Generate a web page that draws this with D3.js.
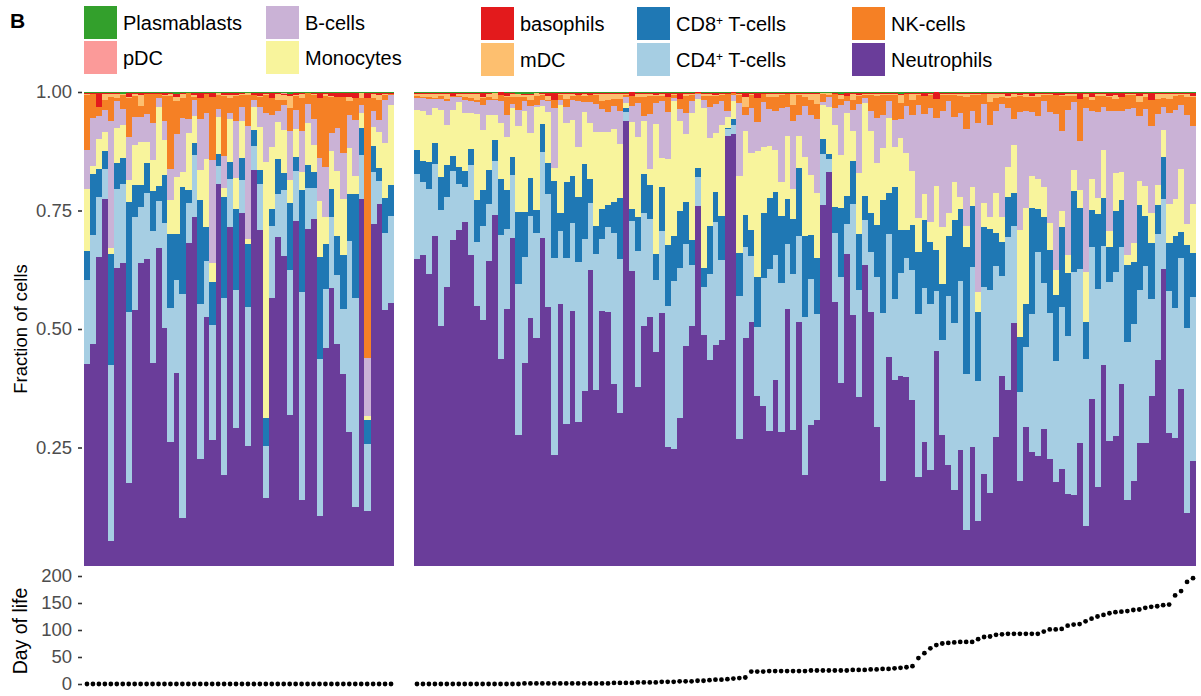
<!DOCTYPE html>
<html>
<head>
<meta charset="utf-8">
<script src="https://cdn.jsdelivr.net/npm/d3@7"></script>
<style>
  body { margin: 0; background: #fff; }
  svg { display: block; font-family: "Liberation Sans", Arial, Helvetica, sans-serif; }
</style>
</head>
<body>
<svg id="chart" width="1201" height="696"></svg>
<script>
// ---- Cell-type composition per sample (percent of cells, each sample sums to ~100) ----
// Samples 0-51 form the first group, 52-182 the second group (ordered by day of life).
const panelSizes = [52, 131];

const neutrophils = [
  42.6, 46.9, 65.2, 77.4, 5.3, 62.9, 63.9, 17.6, 54.0, 63.9,
  64.8, 42.8, 67.1, 50.2, 26.2, 40.7, 10.1, 68.1, 73.6, 22.6,
  52.5, 26.6, 80.6, 19.2, 71.5, 29.1, 74.5, 25.3, 83.8, 70.9,
  14.3, 56.7, 69.4, 65.4, 31.9, 72.8, 13.9, 71.1, 73.2, 10.5,
  46.0, 58.6, 46.8, 40.5, 28.3, 12.4, 77.4, 11.6, 72.1, 76.4,
  54.0, 55.5,
  64.6, 65.6, 61.6, 69.6, 50.6, 58.9, 68.8, 70.9, 72.6, 65.6,
  54.8, 51.9, 64.3, 74.0, 43.7, 54.2, 69.2, 27.6, 42.8, 52.3,
  48.1, 69.2, 54.6, 23.4, 55.3, 30.0, 53.8, 30.4, 36.9, 62.4,
  37.1, 53.8, 53.6, 38.4, 32.3, 93.9, 62.2, 37.8, 50.6, 52.5,
  45.1, 53.4, 25.1, 24.7, 31.2, 46.4, 50.6, 75.9, 48.7, 43.5,
  46.6, 47.7, 90.7, 91.1, 26.8, 48.1, 51.5, 35.9, 33.8, 28.5,
  39.2, 28.3, 54.2, 28.7, 51.5, 19.2, 29.7, 30.8, 76.2, 83.1,
  55.7, 38.6, 65.8, 53.0, 35.7, 63.5, 53.6, 29.3, 17.9, 44.1,
  39.2, 40.1, 39.9, 35.0, 18.8, 26.2, 20.3, 45.4, 27.6, 21.3,
  16.0, 24.5, 7.6, 25.1, 9.5, 19.4, 15.4, 27.2, 40.1, 37.1,
  51.3, 17.9, 29.3, 24.0, 23.2, 28.9, 22.6, 17.7, 20.5, 15.2,
  15.0, 25.9, 8.4, 35.2, 16.7, 42.4, 26.4, 27.4, 38.4, 13.9,
  17.9, 25.9, 25.9, 35.9, 43.5, 62.7, 28.1, 27.0, 37.3, 11.2,
  22.2
];

const cd4TCells = [
  17.7, 22.9, 12.7, 6.3, 37.1, 16.7, 16.7, 36.0, 19.6, 11.8,
  13.9, 27.8, 9.9, 22.2, 28.3, 19.6, 47.3, 8.4, 13.1, 32.7,
  11.8, 24.3, 3.8, 37.3, 10.1, 29.1, 7.0, 29.3, 4.9, 9.7,
  11.0, 15.0, 9.1, 14.1, 30.6, 10.5, 43.9, 8.6, 6.5, 33.1,
  12.4, 15.0, 14.6, 13.7, 40.3, 44.1, 9.3, 14.1, 11.0, 4.9,
  16.2, 18.4,
  18.1, 15.4, 17.9, 15.2, 24.5, 19.0, 14.6, 9.7, 7.4, 19.0,
  13.5, 20.0, 12.0, 11.4, 26.2, 16.9, 13.3, 31.9, 22.4, 21.5,
  22.2, 18.1, 23.8, 41.6, 15.4, 35.0, 18.4, 33.8, 32.1, 14.1,
  28.7, 15.2, 17.9, 31.9, 32.5, 1.9, 10.5, 28.7, 23.8, 20.7,
  15.2, 17.3, 29.7, 35.4, 31.6, 21.5, 12.9, 6.1, 10.1, 18.1,
  25.9, 16.9, 1.5, 1.9, 30.2, 19.2, 13.9, 14.6, 27.0, 34.2,
  26.4, 31.4, 13.7, 32.9, 18.1, 33.3, 31.0, 22.4, 10.8, 2.7,
  14.6, 22.4, 6.3, 23.4, 22.6, 9.5, 12.7, 31.6, 35.4, 25.9,
  17.1, 21.7, 25.1, 27.4, 34.4, 32.5, 35.0, 12.7, 20.0, 35.7,
  35.2, 35.7, 32.9, 38.0, 29.5, 39.5, 42.8, 36.1, 21.1, 32.3,
  20.5, 18.8, 17.1, 29.3, 43.0, 30.8, 30.8, 25.5, 34.2, 33.3,
  47.0, 36.7, 35.2, 32.1, 41.8, 25.1, 33.5, 34.6, 28.9, 33.3,
  33.1, 32.3, 37.3, 20.5, 26.6, 14.8, 30.0, 27.4, 27.6, 39.0,
  34.6
];

const cd8TCells = [
  6.1, 12.9, 5.9, 3.8, 23.4, 5.5, 5.5, 23.2, 6.8, 4.6,
  6.3, 8.4, 3.2, 10.1, 15.6, 9.7, 22.6, 2.7, 2.5, 21.9,
  7.2, 9.1, 2.5, 21.3, 3.6, 17.1, 4.6, 13.3, 3.4, 3.0,
  5.9, 3.6, 7.4, 3.4, 14.1, 3.0, 21.5, 4.9, 3.4, 21.5,
  9.5, 5.9, 8.2, 11.4, 9.9, 21.9, 5.7, 5.1, 5.5, 2.7,
  7.4, 6.5,
  4.9, 4.4, 5.7, 4.4, 6.8, 6.8, 3.0, 3.6, 3.4, 3.4,
  8.9, 7.4, 7.2, 4.4, 11.8, 8.2, 3.8, 15.2, 9.5, 8.0,
  4.9, 5.9, 6.5, 16.2, 3.8, 16.0, 10.1, 13.7, 15.8, 5.1,
  5.9, 6.3, 4.6, 6.5, 12.9, 0.8, 2.5, 7.2, 8.2, 7.2,
  5.5, 9.3, 12.9, 9.5, 12.0, 8.9, 5.3, 1.9, 4.0, 10.1,
  6.3, 9.3, 0.2, 1.3, 9.1, 6.8, 5.5, 10.5, 13.7, 15.0,
  13.3, 14.1, 9.5, 11.6, 14.3, 17.1, 9.1, 11.8, 3.2, 1.1,
  5.5, 14.6, 5.9, 9.1, 11.8, 5.1, 8.2, 11.0, 23.8, 8.6,
  23.6, 9.1, 5.9, 9.5, 13.1, 14.3, 13.1, 8.6, 11.8, 12.7,
  21.7, 15.2, 26.8, 12.9, 14.6, 12.7, 12.9, 7.0, 7.2, 8.4,
  7.0, 11.6, 8.9, 22.2, 9.1, 13.9, 13.3, 13.9, 16.9, 13.3,
  17.1, 12.9, 7.8, 7.8, 15.8, 10.1, 7.4, 12.9, 9.9, 16.2,
  13.1, 17.9, 10.5, 11.8, 6.1, 8.9, 10.1, 15.2, 5.5, 17.5,
  9.3
];

const monocytes = [
  13.1, 1.7, 6.3, 4.1, 1.3, 7.3, 7.0, 4.6, 8.4, 9.1,
  4.4, 6.5, 16.7, 7.4, 7.2, 12.0, 3.2, 12.0, 5.7, 6.3,
  14.3, 4.0, 7.8, 1.9, 9.1, 6.5, 7.8, 1.1, 4.9, 9.1,
  54.0, 13.1, 7.8, 9.1, 4.9, 5.9, 3.8, 8.9, 5.7, 12.0,
  5.7, 8.0, 13.7, 11.8, 9.7, 3.8, 3.2, 0.8, 4.0, 7.6,
  11.6, 16.9,
  8.6, 10.5, 9.9, 7.4, 14.3, 8.4, 9.9, 13.7, 12.2, 7.6,
  18.1, 12.7, 11.6, 5.3, 11.8, 11.2, 10.3, 18.1, 21.3, 9.5,
  21.7, 3.8, 10.8, 2.7, 22.8, 12.4, 11.8, 10.5, 11.0, 11.8,
  19.8, 16.2, 15.4, 15.4, 11.4, 1.1, 18.4, 16.9, 11.2, 3.4,
  27.4, 6.1, 18.1, 28.3, 19.0, 14.3, 26.8, 14.6, 33.8, 18.6,
  12.4, 19.2, 2.3, 3.8, 16.2, 17.7, 16.2, 26.6, 13.9, 11.0,
  8.9, 7.2, 13.3, 6.3, 6.8, 16.7, 12.7, 13.7, 7.2, 9.9,
  17.3, 11.2, 17.5, 6.3, 12.9, 19.6, 17.3, 13.1, 11.0, 15.8,
  8.4, 19.4, 16.2, 11.4, 7.2, 5.5, 4.2, 13.5, 12.0, 4.9,
  8.0, 2.5, 4.4, 4.0, 4.2, 5.1, 2.5, 8.4, 5.3, 6.3,
  10.1, 22.6, 20.3, 6.8, 6.3, 6.3, 5.7, 5.3, 3.4, 3.8,
  4.4, 3.8, 10.5, 6.5, 3.4, 10.1, 3.4, 8.0, 6.1, 2.1,
  4.0, 5.1, 6.3, 6.3, 4.2, 5.7, 8.2, 7.8, 13.3, 4.4,
  10.3
];

const bCells = [
  8.2, 10.2, 4.9, 4.6, 26.9, 5.8, 3.4, 9.1, 5.9, 5.3,
  5.9, 7.8, 1.9, 4.0, 6.5, 9.1, 11.4, 3.0, 3.4, 10.8,
  9.7, 21.7, 1.7, 6.8, 1.3, 12.0, 3.0, 23.8, 1.5, 4.2,
  10.3, 6.8, 2.3, 5.3, 10.3, 4.0, 8.6, 4.0, 5.5, 8.9,
  10.5, 3.8, 9.1, 9.7, 7.0, 11.8, 1.7, 12.2, 3.4, 2.5,
  9.1, 2.1,
  2.5, 2.7, 3.4, 1.9, 2.3, 5.1, 2.7, 1.1, 2.7, 2.5,
  2.5, 5.3, 3.2, 3.2, 4.6, 4.6, 0.8, 3.4, 2.1, 5.7,
  0.4, 1.3, 2.3, 12.7, 1.1, 3.4, 4.2, 9.7, 2.1, 4.4,
  5.9, 4.9, 4.2, 4.9, 7.0, 1.3, 3.4, 7.2, 1.1, 11.6,
  4.4, 12.0, 9.9, 0.8, 2.5, 4.4, 2.5, 1.1, 1.7, 6.5,
  6.1, 5.1, 1.3, 1.3, 15.4, 3.4, 9.5, 6.1, 9.5, 7.8,
  8.2, 15.6, 6.1, 14.3, 4.4, 10.8, 12.7, 15.6, 0.6, 2.1,
  3.6, 10.5, 2.5, 4.4, 14.6, 1.1, 4.2, 9.5, 7.0, 3.6,
  5.7, 4.0, 9.9, 11.8, 23.8, 16.9, 24.1, 14.3, 24.5, 23.6,
  13.7, 17.7, 20.5, 16.0, 35.7, 20.9, 19.4, 17.3, 23.8, 12.4,
  5.5, 24.9, 20.5, 13.5, 13.3, 18.1, 23.4, 32.9, 16.9, 30.6,
  14.3, 10.3, 34.6, 14.3, 18.1, 9.1, 25.3, 13.1, 12.7, 30.8,
  28.5, 13.7, 16.2, 18.4, 15.0, 4.9, 19.2, 18.8, 13.5, 23.0,
  16.5
];

const nkCells = [
  11.6, 4.9, 2.0, 2.1, 5.1, 0.5, 3.0, 8.3, 4.4, 2.3,
  4.1, 6.1, 0.8, 5.3, 15.4, 7.0, 4.3, 5.5, 0.6, 4.5,
  3.9, 13.3, 3.0, 12.7, 3.2, 5.3, 2.5, 6.5, 1.1, 2.1,
  3.8, 3.6, 2.3, 1.1, 4.9, 3.0, 7.0, 2.3, 5.1, 12.7,
  15.0, 7.6, 6.5, 11.8, 3.0, 4.6, 1.5, 54.9, 2.7, 4.2,
  1.1, 0.2,
  0.4, 0.2, 0.4, 0.2, 0.6, 0.4, 0.2, 0.2, 0.6, 0.6,
  0.4, 1.5, 0.6, 0.2, 1.3, 3.8, 1.5, 2.7, 0.8, 1.3,
  1.9, 1.1, 0.3, 1.7, 1.1, 1.7, 0.8, 1.3, 1.3, 1.5,
  1.9, 1.7, 2.5, 1.5, 2.5, 0.4, 2.1, 1.3, 4.0, 3.8,
  1.5, 1.1, 3.2, 0.6, 2.1, 3.6, 1.3, 0.2, 0.8, 2.3,
  1.7, 1.3, 3.6, 0.4, 1.7, 1.7, 2.7, 5.1, 1.7, 2.5,
  3.0, 2.7, 2.7, 3.4, 4.2, 1.9, 3.2, 3.2, 1.7, 0.4,
  3.0, 1.3, 1.1, 2.1, 1.7, 0.6, 3.4, 4.6, 4.2, 1.3,
  5.3, 3.4, 2.5, 3.2, 2.1, 3.8, 2.7, 4.0, 3.4, 1.3,
  4.6, 3.6, 6.8, 3.4, 5.9, 2.1, 4.9, 2.7, 1.5, 2.1,
  4.6, 3.4, 3.0, 3.2, 4.0, 1.3, 3.6, 4.0, 7.4, 3.0,
  1.3, 8.9, 2.3, 2.3, 3.4, 2.3, 3.0, 2.5, 3.0, 3.0,
  2.7, 3.0, 2.5, 5.5, 3.2, 1.9, 3.0, 3.0, 2.1, 3.8,
  6.1
];

const mDC = [
  0.1, 0.0, 0.0, 1.2, 0.6, 0.9, 0.1, 0.1, 0.3, 2.3,
  0.0, 0.0, 0.0, 0.2, 0.3, 0.8, 0.8, 0.0, 0.5, 0.0,
  0.0, 0.1, 0.4, 0.2, 0.6, 0.2, 0.2, 0.3, 0.0, 0.3,
  0.2, 0.1, 1.2, 1.1, 2.6, 0.2, 0.8, 0.0, 0.2, 0.1,
  0.3, 0.3, 0.1, 0.1, 0.8, 0.0, 1.0, 0.0, 0.8, 1.1,
  0.2, 0.0,
  0.3, 0.6, 0.6, 0.8, 0.3, 1.0, 0.0, 0.3, 0.6, 0.8,
  1.2, 0.2, 0.6, 1.2, 0.0, 0.2, 0.6, 0.6, 0.5, 1.1,
  0.5, 0.2, 0.8, 0.0, 0.2, 1.0, 0.3, 0.0, 0.3, 0.0,
  0.2, 1.4, 1.2, 1.0, 1.0, 0.2, 0.0, 0.6, 0.6, 0.3,
  0.1, 0.3, 0.1, 0.2, 0.0, 0.3, 0.2, 0.0, 0.3, 0.3,
  0.1, 0.2, 0.0, 0.0, 0.2, 2.1, 0.2, 0.1, 0.0, 0.6,
  0.6, 0.2, 0.0, 2.3, 0.2, 0.6, 1.2, 2.0, 0.1, 0.4,
  0.0, 0.9, 0.0, 1.2, 0.1, 0.2, 0.2, 0.3, 0.2, 0.2,
  0.2, 1.7, 0.0, 1.2, 0.1, 0.0, 0.2, 0.0, 0.2, 0.2,
  0.2, 0.3, 0.6, 0.2, 0.2, 0.0, 1.6, 0.8, 0.6, 0.4,
  0.6, 0.1, 0.6, 0.3, 0.6, 0.2, 0.2, 0.0, 0.1, 0.3,
  0.3, 0.1, 0.6, 0.6, 0.3, 0.3, 0.3, 0.8, 0.1, 0.2,
  0.2, 1.3, 0.6, 0.1, 1.0, 0.8, 1.0, 0.3, 0.2, 0.6,
  0.2
];

const basophils = [
  0.3, 0.3, 2.9, 0.3, 0.2, 0.2, 0.1, 0.9, 0.2, 0.4,
  0.2, 0.2, 0.2, 0.4, 0.3, 0.7, 0.1, 0.0, 0.3, 1.0,
  0.3, 0.8, 0.0, 0.4, 0.3, 0.3, 0.2, 0.1, 0.4, 0.5,
  0.2, 1.0, 0.2, 0.2, 0.3, 0.3, 0.2, 0.0, 0.2, 0.9,
  0.3, 0.5, 0.7, 0.7, 0.8, 1.0, 0.0, 1.0, 0.2, 0.3,
  0.2, 0.2,
  0.2, 0.2, 0.2, 0.2, 0.2, 0.2, 0.6, 0.2, 0.2, 0.2,
  0.2, 0.8, 0.2, 0.0, 0.5, 0.6, 0.2, 0.1, 0.2, 0.2,
  0.1, 0.2, 0.6, 1.5, 0.2, 0.2, 0.2, 0.4, 0.2, 0.4,
  0.2, 0.2, 0.2, 0.2, 0.2, 0.2, 0.7, 0.2, 0.2, 0.2,
  0.5, 0.2, 0.8, 0.2, 1.3, 0.2, 0.2, 0.1, 0.2, 0.2,
  0.4, 0.2, 0.2, 0.1, 0.2, 0.8, 0.2, 1.0, 0.2, 0.2,
  0.2, 0.2, 0.2, 0.1, 0.2, 0.2, 0.2, 0.2, 0.1, 0.0,
  0.1, 0.2, 0.6, 0.2, 0.4, 0.2, 0.2, 0.2, 0.2, 0.2,
  0.2, 0.2, 0.2, 0.2, 0.3, 0.6, 0.2, 1.4, 0.2, 0.2,
  0.2, 0.2, 0.2, 0.2, 0.2, 0.2, 0.2, 0.2, 0.2, 0.6,
  0.2, 0.4, 0.2, 0.5, 0.2, 0.2, 0.2, 0.4, 0.4, 0.2,
  0.2, 1.1, 0.2, 0.8, 0.2, 0.2, 0.5, 0.4, 0.8, 0.2,
  0.2, 0.5, 0.2, 1.3, 0.2, 0.2, 0.2, 0.2, 0.2, 0.2,
  0.6
];

const pDC = [
  0.0, 0.0, 0.0, 0.0, 0.0, 0.0, 0.0, 0.0, 0.1, 0.0,
  0.1, 0.0, 0.0, 0.0, 0.0, 0.0, 0.0, 0.0, 0.0, 0.0,
  0.0, 0.0, 0.0, 0.0, 0.0, 0.0, 0.0, 0.0, 0.0, 0.0,
  0.0, 0.0, 0.0, 0.1, 0.1, 0.0, 0.0, 0.0, 0.0, 0.0,
  0.0, 0.0, 0.0, 0.0, 0.0, 0.0, 0.0, 0.0, 0.0, 0.0,
  0.0, 0.0,
  0.0, 0.1, 0.0, 0.0, 0.0, 0.0, 0.0, 0.0, 0.0, 0.0,
  0.0, 0.0, 0.0, 0.0, 0.0, 0.0, 0.0, 0.0, 0.0, 0.0,
  0.0, 0.0, 0.0, 0.0, 0.0, 0.0, 0.0, 0.0, 0.0, 0.0,
  0.0, 0.0, 0.0, 0.0, 0.0, 0.0, 0.0, 0.0, 0.0, 0.0,
  0.0, 0.0, 0.0, 0.0, 0.0, 0.0, 0.0, 0.0, 0.0, 0.0,
  0.0, 0.0, 0.0, 0.0, 0.0, 0.0, 0.0, 0.0, 0.0, 0.0,
  0.0, 0.0, 0.0, 0.0, 0.0, 0.0, 0.0, 0.0, 0.0, 0.0,
  0.0, 0.0, 0.0, 0.0, 0.0, 0.0, 0.0, 0.0, 0.0, 0.0,
  0.0, 0.0, 0.0, 0.0, 0.0, 0.0, 0.0, 0.0, 0.0, 0.0,
  0.0, 0.0, 0.0, 0.0, 0.0, 0.0, 0.0, 0.0, 0.0, 0.0,
  0.0, 0.0, 0.0, 0.0, 0.0, 0.0, 0.0, 0.0, 0.0, 0.0,
  0.0, 0.0, 0.0, 0.0, 0.0, 0.0, 0.0, 0.0, 0.0, 0.0,
  0.0, 0.0, 0.0, 0.0, 0.0, 0.0, 0.0, 0.0, 0.0, 0.0,
  0.0
];

const plasmablasts = [
  0.2, 0.2, 0.2, 0.2, 0.2, 0.2, 0.4, 0.2, 0.2, 0.3,
  0.2, 0.2, 0.2, 0.2, 0.2, 0.4, 0.3, 0.2, 0.3, 0.2,
  0.2, 0.2, 0.2, 0.2, 0.3, 0.3, 0.2, 0.2, 0.2, 0.3,
  0.2, 0.2, 0.3, 0.3, 0.4, 0.3, 0.3, 0.2, 0.2, 0.3,
  0.2, 0.3, 0.3, 0.3, 0.3, 0.3, 0.3, 0.3, 0.3, 0.3,
  0.2, 0.2,
  0.3, 0.2, 0.3, 0.3, 0.3, 0.3, 0.2, 0.3, 0.3, 0.3,
  0.3, 0.3, 0.3, 0.3, 0.1, 0.3, 0.3, 0.4, 0.4, 0.4,
  0.2, 0.2, 0.2, 0.2, 0.2, 0.3, 0.3, 0.2, 0.3, 0.2,
  0.2, 0.3, 0.3, 0.3, 0.3, 0.2, 0.1, 0.3, 0.3, 0.3,
  0.2, 0.3, 0.2, 0.2, 0.2, 0.3, 0.2, 0.1, 0.3, 0.3,
  0.3, 0.2, 0.2, 0.1, 0.2, 0.3, 0.2, 0.2, 0.2, 0.3,
  0.3, 0.2, 0.2, 0.3, 0.2, 0.3, 0.3, 0.3, 0.2, 0.2,
  0.3, 0.4, 0.2, 0.3, 0.3, 0.2, 0.2, 0.3, 0.2, 0.2,
  0.2, 0.4, 0.2, 0.3, 0.2, 0.2, 0.2, 0.1, 0.2, 0.2,
  0.2, 0.3, 0.3, 0.2, 0.2, 0.2, 0.3, 0.3, 0.3, 0.3,
  0.3, 0.3, 0.3, 0.3, 0.3, 0.2, 0.2, 0.2, 0.3, 0.3,
  0.3, 0.3, 0.3, 0.3, 0.3, 0.3, 0.3, 0.3, 0.2, 0.2,
  0.2, 0.3, 0.3, 0.3, 0.3, 0.3, 0.3, 0.3, 0.2, 0.3,
  0.3
];

// Day of life at sampling
const dayOfLife = [
  0, 0, 0, 0, 0, 0, 0, 0, 0, 0,
  0, 0, 0, 0, 0, 0, 0, 0, 0, 0,
  0, 0, 0, 0, 0, 0, 0, 0, 0, 0,
  0, 0, 0, 0, 0, 0, 0, 0, 0, 0,
  0, 0, 0, 0, 0, 0, 0, 0, 0, 0,
  0, 0,
  0, 0, 0, 0, 0, 0, 0, 0, 0, 0,
  0, 0, 0, 0, 0, 0, 0, 0, 1, 1,
  1, 1, 1, 1, 1, 1, 1, 1, 1, 1,
  1, 1, 1, 2, 2, 2, 2, 3, 3, 3,
  3, 4, 4, 4, 5, 5, 5, 6, 6, 7,
  8, 8, 9, 10, 11, 12, 23, 23, 23, 24,
  24, 24, 24, 24, 24, 24, 25, 25, 25, 25,
  25, 25, 25, 26, 26, 26, 27, 27, 28, 28,
  29, 30, 31, 33, 48, 57, 66, 72, 75, 76,
  77, 78, 78, 78, 83, 87, 88, 91, 92, 93,
  93, 93, 93, 93, 93, 97, 101, 101, 102, 108,
  110, 111, 116, 121, 125, 128, 131, 133, 134, 135,
  137, 138, 141, 143, 144, 146, 147, 164, 172, 189,
  196
];

const fractionTicks = [0.25, 0.50, 0.75, 1.00];
const dayTicks = [0, 50, 100, 150, 200];

// Stacking order, bottom to top
const cellTypes = [
  { key: "Neutrophils",  values: neutrophils,  color: "#6A3D9A" },
  { key: "CD4+ T-cells", values: cd4TCells,    color: "#A6CEE3" },
  { key: "CD8+ T-cells", values: cd8TCells,    color: "#1F78B4" },
  { key: "Monocytes",    values: monocytes,    color: "#F8F49C" },
  { key: "B-cells",      values: bCells,       color: "#CAB2D6" },
  { key: "NK-cells",     values: nkCells,      color: "#F58025" },
  { key: "mDC",          values: mDC,          color: "#FDBF6F" },
  { key: "basophils",    values: basophils,    color: "#E31A1C" },
  { key: "pDC",          values: pDC,          color: "#FB9A99" },
  { key: "Plasmablasts", values: plasmablasts, color: "#33A02C" }
];

// Legend layout: columns of two entries
const legendColumns = [
  ["Plasmablasts", "pDC"],
  ["B-cells", "Monocytes"],
  ["basophils", "mDC"],
  ["CD8+ T-cells", "CD4+ T-cells"],
  ["NK-cells", "Neutrophils"]
];

// ---- Build ----
const svg = d3.select("#chart");
const colorOf = new Map(cellTypes.map(c => [c.key, c.color]));
const nSamples = neutrophils.length;

const rows = d3.range(nSamples).map(i => {
  const r = { id: i, day: dayOfLife[i] };
  cellTypes.forEach(c => { r[c.key] = c.values[i]; });
  return r;
});

const series = d3.stack()
  .keys(cellTypes.map(c => c.key))
  .offset(d3.stackOffsetExpand)(rows);

const y = d3.scaleLinear().domain([0, 1]).range([566, 92]);
const yDay = d3.scaleLinear().domain([0, 200]).range([684, 576]);

const panelRanges = [[84, 394], [414, 1196]];
let start = 0;
const panels = panelSizes.map((n, p) => {
  const ids = d3.range(start, start + n);
  start += n;
  return { ids, x: d3.scaleBand().domain(ids).range(panelRanges[p]).padding(0) };
});

// Stacked bars
panels.forEach(panel => {
  const idSet = new Set(panel.ids);
  const g = svg.append("g").attr("shape-rendering", "crispEdges");
  g.selectAll("g.layer")
    .data(series)
    .join("g")
    .attr("class", "layer")
    .attr("fill", s => colorOf.get(s.key))
    .selectAll("rect")
    .data(s => s.filter(d => idSet.has(d.data.id)))
    .join("rect")
    .attr("x", d => panel.x(d.data.id))
    .attr("width", panel.x.bandwidth() + 0.4)
    .attr("y", d => y(d[1]))
    .attr("height", d => Math.max(0, y(d[0]) - y(d[1])));
});

// Day-of-life dots
panels.forEach(panel => {
  svg.append("g")
    .selectAll("circle")
    .data(panel.ids.map(i => rows[i]))
    .join("circle")
    .attr("cx", d => panel.x(d.id) + panel.x.bandwidth() / 2)
    .attr("cy", d => yDay(d.day))
    .attr("r", 2.4)
    .attr("fill", "#000");
});

// Axes
function styleAxis(g) {
  g.select(".domain").remove();
  g.selectAll(".tick line").attr("stroke", "#333").attr("stroke-width", 1.6);
  g.selectAll(".tick text")
    .attr("fill", "#4D4D4D")
    .attr("font-size", 18.5)
    .attr("font-family", "'Liberation Sans', Arial, Helvetica, sans-serif");
}

svg.append("g")
  .attr("transform", "translate(82,0)")
  .call(d3.axisLeft(y).tickValues(fractionTicks).tickFormat(d3.format(".2f")).tickSize(4).tickPadding(6))
  .call(styleAxis);

svg.append("g")
  .attr("transform", "translate(82,0)")
  .call(d3.axisLeft(yDay).tickValues(dayTicks).tickFormat(d3.format("d")).tickSize(4).tickPadding(6))
  .call(styleAxis);

// Axis titles
svg.append("text")
  .attr("transform", "translate(27,329) rotate(-90)")
  .attr("text-anchor", "middle")
  .attr("font-size", 18.5)
  .attr("fill", "#000")
  .text("Fraction of cells");

svg.append("text")
  .attr("transform", "translate(27,631) rotate(-90)")
  .attr("text-anchor", "middle")
  .attr("font-size", 19.5)
  .attr("fill", "#000")
  .text("Day of life");

// Panel tag
svg.append("text")
  .attr("x", 10).attr("y", 28)
  .attr("font-size", 21).attr("font-weight", "bold")
  .attr("fill", "#000")
  .text("B");

// Legend
const legendX = [84, 266, 481, 637, 852];
const legendY = [[6, 41], [6, 41], [7, 43], [7, 43], [7, 43]];
const keySize = 33;

legendColumns.forEach((col, ci) => {
  col.forEach((name, ri) => {
    const g = svg.append("g")
      .attr("transform", `translate(${legendX[ci]},${legendY[ci][ri]})`);
    g.append("rect")
      .attr("width", keySize).attr("height", keySize)
      .attr("fill", colorOf.get(name));
    const t = g.append("text")
      .attr("x", keySize + 6)
      .attr("y", keySize / 2)
      .attr("dy", "0.36em")
      .attr("font-size", 20)
      .attr("fill", "#000");
    const parts = name.split("+");
    if (parts.length === 2) {
      t.append("tspan").text(parts[0]);
      t.append("tspan").attr("font-size", 12).attr("dy", -6).text("+");
      t.append("tspan").attr("dy", 6).text(parts[1]);
    } else {
      t.text(name);
    }
  });
});
</script>
</body>
</html>
